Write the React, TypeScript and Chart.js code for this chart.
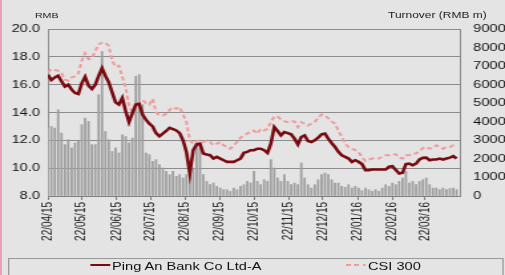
import React, { useEffect, useRef } from "react";
import { Chart, registerables } from "chart.js";

Chart.register(...registerables);

// ---- data (sampled every 3 calendar days from 22/04/15) ----
const SAMPLE_STEP_DAYS = 3;

const monthTickDays = [0, 30, 61, 91, 122, 153, 183, 214, 244, 275, 306, 335];
const monthTickLabels = [
  "22/04/15", "22/05/15", "22/06/15", "22/07/15", "22/08/15", "22/09/15",
  "22/10/15", "22/11/15", "22/12/15", "22/01/16", "22/02/16", "22/03/16",
];

const pingAn = [
  16.7, 16.33, 16.52, 16.64, 16.24, 15.86, 16.0, 15.64, 15.4, 15.33,
  16.1, 16.57, 15.93, 15.69, 16.0, 16.64, 17.19, 16.64, 16.17, 15.45,
  14.74, 14.57, 15.05, 14.1, 13.31, 13.95, 14.57, 14.62, 13.86, 13.48,
  13.19, 13.0, 12.52, 12.29, 12.48, 12.67, 12.9, 12.81, 12.71, 12.52,
  12.0, 11.17, 9.62, 11.29, 11.71, 11.76, 11.05, 10.98, 10.93, 10.69,
  10.81, 10.69, 10.57, 10.45, 10.45, 10.45, 10.57, 10.69, 11.1, 11.17,
  11.29, 11.29, 11.4, 11.4, 11.29, 11.1, 11.76, 12.95, 12.67, 12.36,
  12.6, 12.52, 12.43, 12.12, 11.71, 12.24, 12.36, 11.95, 11.88, 12.0,
  12.19, 12.43, 12.48, 12.12, 11.81, 11.52, 11.17, 10.93, 10.81, 10.69,
  10.45, 10.57, 10.45, 10.29, 9.86, 9.86, 9.9, 9.9, 9.9, 9.9,
  9.9, 10.1, 10.14, 9.86, 9.62, 9.67, 10.29, 10.33, 10.21, 10.33,
  10.62, 10.74, 10.76, 10.57, 10.62, 10.62, 10.69, 10.62, 10.69, 10.76, 10.86, 10.69,
];

const csi300 = [
  16.88, 17.12, 17.05, 17.0, 16.83, 16.36, 16.29, 16.52, 16.6, 16.81,
  17.71, 18.26, 17.83, 17.9, 18.43, 18.9, 19.02, 19.02, 18.79, 17.71,
  17.29, 17.36, 16.57, 15.81, 14.5, 14.02, 14.5, 14.81, 14.9, 14.67,
  14.57, 14.98, 14.02, 13.79, 13.79, 13.9, 14.19, 14.38, 14.26, 14.38,
  13.86, 13.31, 12.0, 11.76, 11.95, 12.0, 11.88, 12.0, 11.88, 11.64,
  11.76, 11.88, 11.64, 11.52, 11.4, 11.64, 11.88, 12.19, 12.36, 12.48,
  12.6, 12.71, 12.48, 12.83, 12.71, 12.83, 13.31, 13.71, 13.71, 13.5,
  13.38, 13.31, 13.38, 13.36, 12.95, 13.31, 13.19, 13.07, 13.19, 13.31,
  13.62, 13.86, 13.79, 13.6, 13.36, 13.19, 12.71, 12.24, 11.76, 11.52,
  11.4, 11.29, 11.17, 10.76, 10.52, 10.62, 10.69, 10.69, 10.69, 10.81,
  10.93, 10.93, 10.98, 11.0, 10.76, 10.69, 10.93, 10.93, 11.05, 11.05,
  11.24, 11.45, 11.52, 11.4, 11.45, 11.64, 11.52, 11.4, 11.52, 11.52, 11.64, 11.57,
];

const turnover = [
  3660, 3750, 3660, 4650, 3390, 2770, 3035, 2590, 2860, 2950,
  3840, 4200, 4020, 2770, 2770, 5460, 7790, 3480, 3035, 2400,
  2590, 2320, 3300, 3210, 2860, 3125, 6450, 6540, 4920, 2320,
  2230, 1870, 1960, 1690, 1510, 1330, 1150, 1330, 1060, 1150,
  970, 1150, 1330, 1510, 2860, 2770, 1150, 790, 610, 700,
  520, 430, 340, 340, 250, 430, 340, 520, 610, 790,
  700, 1330, 790, 610, 880, 790, 1960, 1510, 970, 790,
  1150, 790, 610, 700, 610, 1780, 970, 610, 430, 610,
  880, 1150, 1240, 1150, 880, 700, 700, 520, 470, 610,
  430, 520, 430, 290, 430, 340, 250, 340, 250, 430,
  610, 520, 700, 610, 790, 970, 1330, 700, 790, 610,
  790, 880, 970, 610, 430, 430, 340, 430, 340, 400, 430, 340,
];

const leftMin = 8;
const leftMax = 20;
const leftStep = 2;
const rightMin = 0;
const rightMax = 9000;
const rightStep = 1000;

// ---- layout (logical canvas is stretched horizontally to 505px) ----
const LOGICAL_W = 380;
const H = 275;
const SCALE_X = 505 / LOGICAL_W;
const FONT = '"Liberation Sans", Arial, Helvetica, sans-serif';

export default function App() {
  const ref = useRef<HTMLCanvasElement | null>(null);

  useEffect(() => {
    if (!ref.current) return;
    const days = pingAn.map((_, i) => i * SAMPLE_STEP_DAYS);
    const pts = (arr: number[]) => arr.map((v, i) => ({ x: days[i], y: v }));

    const chart = new Chart(ref.current, {
      type: "line",
      data: {
        datasets: [
          {
            type: "line",
            label: "Ping An Bank Co Ltd-A",
            data: pts(pingAn),
            yAxisID: "y",
            borderColor: "#7a0a10",
            borderWidth: 2.6,
            pointRadius: 0,
            tension: 0,
            order: 0,
          },
          {
            type: "line",
            label: "CSI 300",
            data: pts(csi300),
            yAxisID: "y",
            borderColor: "#f29a9c",
            borderWidth: 2,
            borderDash: [4, 2.5],
            pointRadius: 0,
            tension: 0,
            order: 1,
          },
          {
            type: "bar",
            label: "Turnover (RMB m)",
            data: pts(turnover),
            yAxisID: "y1",
            backgroundColor: "#a0a0a0",
            barThickness: 1.15,
            order: 2,
          },
        ],
      } as any,
      options: {
        responsive: false,
        animation: false,
        events: [],
        layout: { padding: { top: 29, bottom: 29, left: 0, right: 0 } },
        plugins: { legend: { display: false }, tooltip: { enabled: false } },
        scales: {
          x: {
            type: "linear",
            min: 0,
            max: 366,
            offset: false,
            afterBuildTicks: (s: any) => {
              s.ticks = monthTickDays.map((v) => ({ value: v }));
            },
            afterFit: (s: any) => {
              s.height = 50;
            },
            ticks: {
              autoSkip: false,
              maxRotation: 90,
              minRotation: 90,
              padding: 2,
              color: "#222",
              font: { size: 10, family: FONT },
              callback: (_v: any, i: number) => monthTickLabels[i] ?? "",
            },
            grid: { drawOnChartArea: false, tickLength: 4, color: "#808080", offset: false },
            border: { color: "#808080" },
          },
          y: {
            position: "left",
            min: leftMin,
            max: leftMax,
            ticks: {
              stepSize: leftStep,
              padding: 6,
              color: "#111",
              font: { size: 11, family: FONT },
              callback: (v: any) => Number(v).toFixed(1),
            },
            grid: { color: "#8c8c8c", drawTicks: false },
            border: { color: "#8c8c8c" },
            afterFit: (s: any) => {
              s.width = 36.1;
            },
          },
          y1: {
            position: "right",
            min: rightMin,
            max: rightMax,
            ticks: {
              stepSize: rightStep,
              padding: 10,
              color: "#111",
              font: { size: 11, family: FONT },
              callback: (v: any) => String(v),
            },
            grid: { drawOnChartArea: false, drawTicks: false },
            border: { color: "#8c8c8c" },
            afterFit: (s: any) => {
              s.width = LOGICAL_W - 346.1;
            },
          },
        },
      } as any,
    });
    return () => chart.destroy();
  }, []);

  return (
    <div
      style={{
        position: "absolute",
        left: 0,
        top: 0,
        width: 505,
        height: H,
        overflow: "hidden",
        background: "#e4e4e4",
      }}
    >
      <div
        style={{
          position: "absolute",
          left: 0,
          top: 0,
          width: LOGICAL_W,
          height: H,
          transform: `scaleX(${SCALE_X})`,
          transformOrigin: "0 0",
          fontFamily: FONT,
          color: "#222",
        }}
      >
        <canvas
          ref={ref}
          width={LOGICAL_W}
          height={H}
          style={{ position: "absolute", left: 0, top: 0, width: LOGICAL_W, height: H }}
        />
        <div style={{ position: "absolute", left: 26.3, top: 11.6, fontSize: 8, lineHeight: "8px", whiteSpace: "nowrap" }}>
          RMB
        </div>
        <div style={{ position: "absolute", left: 292, top: 11.1, fontSize: 9, lineHeight: "9px", whiteSpace: "nowrap" }}>
          Turnover (RMB m)
        </div>
        <div
          style={{
            position: "absolute",
            left: 6,
            top: 258,
            width: 372.5,
            height: 40,
            border: "1px solid #9a9a9a",
            boxSizing: "border-box",
          }}
        />
        <div
          style={{
            position: "absolute",
            left: 67.7,
            top: 263.7,
            width: 15.5,
            height: 2.6,
            background: "#7a0a10",
          }}
        />
        <div style={{ position: "absolute", left: 84.3, top: 260.7, fontSize: 11, lineHeight: "11px", color: "#111", whiteSpace: "nowrap" }}>
          Ping An Bank Co Ltd-A
        </div>
        <div
          style={{
            position: "absolute",
            left: 259.6,
            top: 264,
            width: 15.5,
            height: 2,
            background: "repeating-linear-gradient(to right, #f29a9c 0 4px, transparent 4px 6.5px)",
          }}
        />
        <div style={{ position: "absolute", left: 276.9, top: 260.7, fontSize: 11, lineHeight: "11px", color: "#111", whiteSpace: "nowrap" }}>
          CSI 300
        </div>
      </div>
      <div style={{ position: "absolute", left: 0, top: 0, width: 2, height: H, background: "#e6a3b3" }} />
    </div>
  );
}
